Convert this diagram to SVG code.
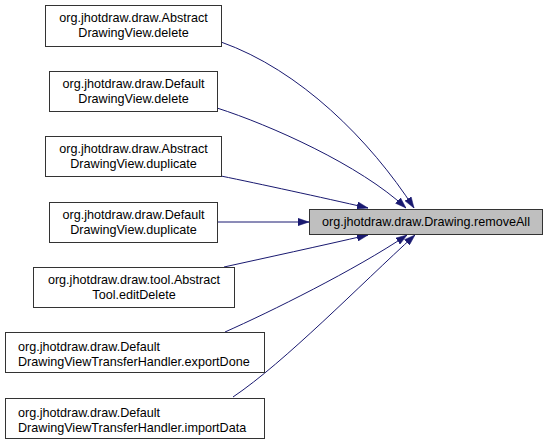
<svg xmlns="http://www.w3.org/2000/svg" width="548" height="444" viewBox="0 0 548 444">
<style>
.box{fill:#ffffff;stroke:#333333;stroke-width:1}
.tgt{fill:#bfbfbf;stroke:#333333;stroke-width:1}
text{font-family:"Liberation Sans",Arial,sans-serif;font-size:12.6px;fill:#000}
.c{text-anchor:middle}
.e{fill:none;stroke:#191970;stroke-width:1;marker-end:url(#arr)}
</style>
<defs>
<marker id="arr" markerUnits="userSpaceOnUse" markerWidth="11" markerHeight="8" viewBox="0 0 11 8" refX="11" refY="4" orient="auto">
<path d="M0,0.3 L11,4 L0,7.7 z" fill="#191970" stroke="#191970" stroke-width="0.5"/>
</marker>
</defs>
<rect width="548" height="444" fill="#ffffff"/>
<g id="connectors">
<path class="e" d="M221,42 C300,70 370,140 414,208"/>
<path class="e" d="M217,108 C270,125 360,165 406,208"/>
<path class="e" d="M221,176 C260,184 320,197 368,208"/>
<path class="e" d="M217,222 L309,222"/>
<path class="e" d="M224,267 C265,258 320,246 368,235"/>
<path class="e" d="M225,332 C270,312 355,270 407,235"/>
<path class="e" d="M233,397 C285,362 360,285 415,235"/>
</g>
<g id="target">
<rect class="tgt" x="309.5" y="209.5" width="233" height="25"/>
<text class="c" x="426" y="226">org.jhotdraw.draw.Drawing.removeAll</text>
</g>
<g id="n1">
<rect class="box" x="45.5" y="5.5" width="176" height="41"/>
<text class="c" x="133.5" y="22">org.jhotdraw.draw.Abstract</text>
<text class="c" x="133.5" y="37">DrawingView.delete</text>
</g>
<g id="n2">
<rect class="box" x="49.5" y="71.5" width="168" height="40"/>
<text class="c" x="133.5" y="88">org.jhotdraw.draw.Default</text>
<text class="c" x="133.5" y="103">DrawingView.delete</text>
</g>
<g id="n3">
<rect class="box" x="45.5" y="136.5" width="176" height="40"/>
<text class="c" x="133.5" y="153">org.jhotdraw.draw.Abstract</text>
<text class="c" x="133.5" y="168">DrawingView.duplicate</text>
</g>
<g id="n4">
<rect class="box" x="49.5" y="202.5" width="168" height="40"/>
<text class="c" x="133.5" y="219">org.jhotdraw.draw.Default</text>
<text class="c" x="133.5" y="234">DrawingView.duplicate</text>
</g>
<g id="n5">
<rect class="box" x="33.5" y="267.5" width="201" height="40"/>
<text class="c" x="134" y="284">org.jhotdraw.draw.tool.Abstract</text>
<text class="c" x="134" y="299">Tool.editDelete</text>
</g>
<g id="n6">
<rect class="box" x="5.5" y="332.5" width="259" height="40"/>
<text x="18" y="351">org.jhotdraw.draw.Default</text>
<text x="18" y="366">DrawingViewTransferHandler.exportDone</text>
</g>
<g id="n7">
<rect class="box" x="5.5" y="398.5" width="259" height="40"/>
<text x="18" y="417">org.jhotdraw.draw.Default</text>
<text x="18" y="432">DrawingViewTransferHandler.importData</text>
</g>
</svg>
